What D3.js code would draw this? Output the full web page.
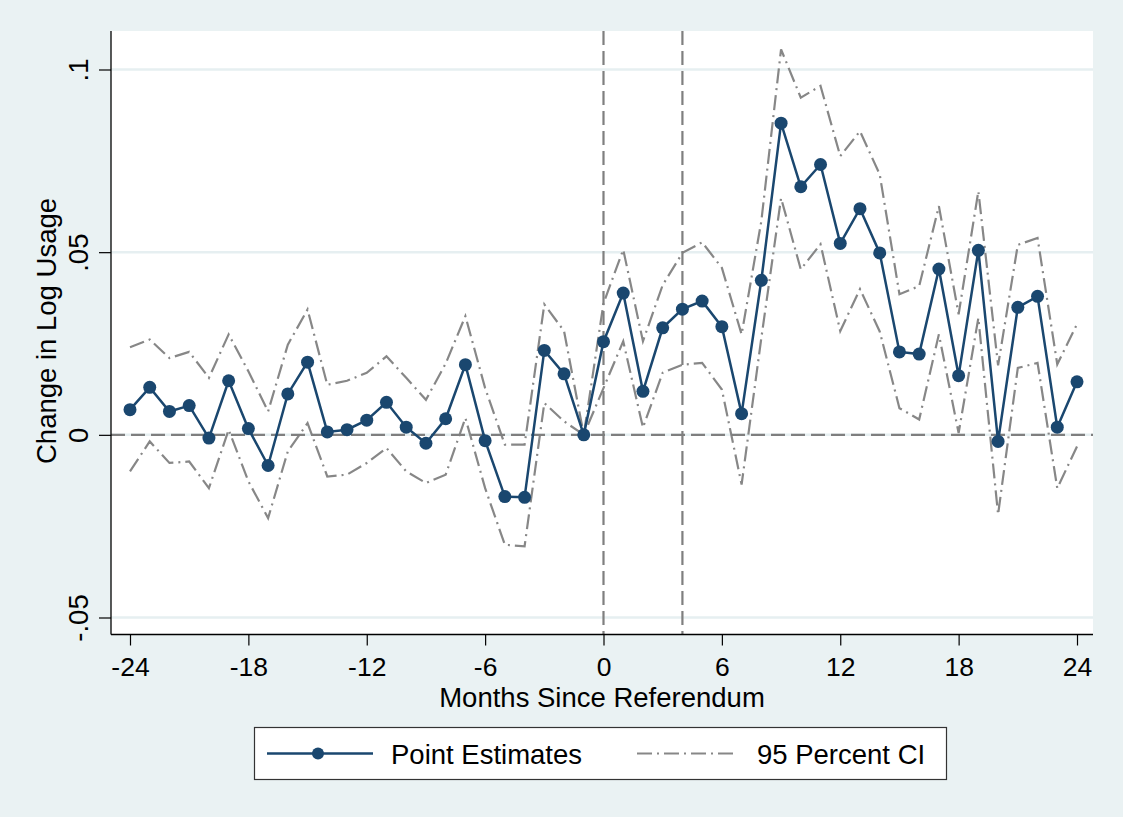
<!DOCTYPE html>
<html>
<head>
<meta charset="utf-8">
<script src="https://cdn.jsdelivr.net/npm/d3@7"></script>
<style>
  html, body { margin: 0; padding: 0; background: #eaf2f3; }
  svg { display: block; }
  text { font-family: "Liberation Sans", Arial, sans-serif; fill: #000; }
</style>
</head>
<body>
<svg id="chart" width="1123" height="817"></svg>
<script>
const months = [-24,-23,-22,-21,-20,-19,-18,-17,-16,-15,-14,-13,-12,-11,-10,-9,-8,-7,-6,-5,-4,-3,-2,-1,
                0,1,2,3,4,5,6,7,8,9,10,11,12,13,14,15,16,17,18,19,20,21,22,23,24];
const estimates = [0.0069,0.0130,0.0064,0.0080,-0.0009,0.0148,0.0017,-0.0084,0.0112,0.0199,0.0008,0.0014,
                   0.0040,0.0089,0.0021,-0.0023,0.0044,0.0192,-0.0016,-0.0169,-0.0171,0.0231,0.0167,0.0000,
                   0.0255,0.0388,0.0119,0.0293,0.0344,0.0366,0.0296,0.0058,0.0423,0.0853,0.0679,0.0740,
                   0.0524,0.0619,0.0498,0.0227,0.0221,0.0454,0.0162,0.0505,-0.0018,0.0349,0.0379,0.0021,0.0145];
const ciUpper = [0.0240,0.0261,0.0210,0.0227,0.0156,0.0275,0.0174,0.0064,0.0247,0.0343,0.0137,0.0148,
                 0.0170,0.0215,0.0156,0.0096,0.0195,0.0325,0.0128,-0.0027,-0.0027,0.0357,0.0284,0.0000,
                 0.0360,0.0507,0.0256,0.0410,0.0498,0.0527,0.0457,0.0275,0.0585,0.1055,0.0923,0.0955,
                 0.0763,0.0831,0.0713,0.0385,0.0407,0.0626,0.0330,0.0667,0.0190,0.0520,0.0539,0.0193,0.0303];
const ciLower = [-0.0100,-0.0018,-0.0077,-0.0073,-0.0146,0.0014,-0.0127,-0.0228,-0.0045,0.0032,-0.0114,-0.0109,
                 -0.0077,-0.0036,-0.0100,-0.0132,-0.0109,0.0046,-0.0146,-0.0301,-0.0305,0.0087,0.0037,0.0000,
                 0.0128,0.0256,0.0020,0.0170,0.0192,0.0197,0.0124,-0.0136,0.0265,0.0648,0.0453,0.0522,
                 0.0284,0.0399,0.0283,0.0073,0.0042,0.0275,0.0005,0.0320,-0.0218,0.0183,0.0197,-0.0146,-0.0032];
const xTicks = [-24,-18,-12,-6,0,6,12,18,24];
const xTickLabels = ["-24","-18","-12","-6","0","6","12","18","24"];
const yTicks = [-0.05,0,0.05,0.1];
const yTickLabels = ["-.05","0",".05",".1"];
const vLines = [0,4];
const yTitle = "Change in Log Usage";
const xTitle = "Months Since Referendum";
const legendLabels = ["Point Estimates","95 Percent CI"];

const svg = d3.select("#chart");
const plot = {left: 111, right: 1093, top: 31, bottom: 634.5};
const x = d3.scaleLinear().domain([-24, 24]).range([130, 1077]);
const y = d3.scaleLinear().domain([-0.05, 0.1]).range([617.5, 69.5]);

const navy = "#1a476f";
const gray = "#878787";
const refGray = "#7f7f7f";
const fontSize = 27.5;
const tickFont = 26.5;

svg.append("rect").attr("width", 1123).attr("height", 817).attr("fill", "#eaf2f3");
svg.append("rect").attr("x", plot.left).attr("y", plot.top)
   .attr("width", plot.right - plot.left).attr("height", plot.bottom - plot.top).attr("fill", "#fff");

// gridlines
svg.append("g").selectAll("line").data(yTicks).join("line")
  .attr("x1", plot.left).attr("x2", plot.right)
  .attr("y1", d => y(d)).attr("y2", d => y(d))
  .attr("stroke", "#e6eff1").attr("stroke-width", 2.5);

// CI lines
const ciDash = "15,5,2,5";
const lineGen = vals => d3.line().x((d, i) => x(months[i])).y(d => y(d))(vals);
[ciUpper, ciLower].forEach(vals => {
  svg.append("path").attr("d", lineGen(vals)).attr("fill", "none")
    .attr("stroke", gray).attr("stroke-width", 2.2).attr("stroke-dasharray", ciDash);
});

// reference lines
svg.append("line").attr("x1", plot.left).attr("x2", plot.right)
  .attr("y1", y(0)).attr("y2", y(0))
  .attr("stroke", refGray).attr("stroke-width", 2.2).attr("stroke-dasharray", "14,6");
svg.append("g").selectAll("line").data(vLines).join("line")
  .attr("x1", d => x(d)).attr("x2", d => x(d))
  .attr("y1", plot.top).attr("y2", plot.bottom)
  .attr("stroke", refGray).attr("stroke-width", 2.2).attr("stroke-dasharray", "14,6");

// estimates
svg.append("path").attr("d", lineGen(estimates)).attr("fill", "none")
  .attr("stroke", navy).attr("stroke-width", 2.5);
svg.append("g").selectAll("circle").data(estimates).join("circle")
  .attr("cx", (d, i) => x(months[i])).attr("cy", d => y(d)).attr("r", 6.5).attr("fill", navy);

// axes
const xAxis = d3.axisBottom(x).tickValues(xTicks).tickSize(11).tickPadding(12)
  .tickFormat((d, i) => xTickLabels[i]);
const gx = svg.append("g").attr("transform", `translate(0,${plot.bottom})`).call(xAxis);
gx.select(".domain").remove();
gx.selectAll(".tick line").attr("stroke", "#000").attr("stroke-width", 1.2);
gx.selectAll(".tick text").attr("font-size", tickFont).attr("font-family", "Liberation Sans, Arial, sans-serif")
  .attr("dy", null).attr("y", 41.5);
svg.append("line").attr("x1", plot.left).attr("x2", plot.right)
  .attr("y1", plot.bottom).attr("y2", plot.bottom).attr("stroke", "#000").attr("stroke-width", 1.3);

const yAxis = d3.axisLeft(y).tickValues(yTicks).tickSize(12).tickFormat((d, i) => yTickLabels[i]);
const gy = svg.append("g").attr("transform", `translate(${plot.left},0)`).call(yAxis);
gy.select(".domain").remove();
gy.selectAll(".tick line").attr("stroke", "#000").attr("stroke-width", 1.2);
gy.selectAll(".tick text").attr("font-size", fontSize).attr("font-family", "Liberation Sans, Arial, sans-serif")
  .attr("x", null).attr("dy", null).attr("text-anchor", "middle")
  .attr("transform", "translate(-23,0) rotate(-90)");
svg.append("line").attr("x1", plot.left).attr("x2", plot.left)
  .attr("y1", plot.top).attr("y2", plot.bottom).attr("stroke", "#000").attr("stroke-width", 1.3);

// titles
svg.append("text").attr("x", 602).attr("y", 707).attr("text-anchor", "middle")
  .attr("font-size", fontSize).text(xTitle);
svg.append("text").attr("transform", "translate(56,331) rotate(-90)").attr("text-anchor", "middle")
  .attr("font-size", fontSize).text(yTitle);

// legend
const lg = svg.append("g");
lg.append("rect").attr("x", 254.5).attr("y", 727.5).attr("width", 692).attr("height", 52)
  .attr("fill", "#fff").attr("stroke", "#333").attr("stroke-width", 1.2);
lg.append("line").attr("x1", 267).attr("x2", 373).attr("y1", 753.5).attr("y2", 753.5)
  .attr("stroke", navy).attr("stroke-width", 2.5);
lg.append("circle").attr("cx", 318).attr("cy", 753.5).attr("r", 6).attr("fill", navy);
lg.append("text").attr("x", 391).attr("y", 763.5).attr("font-size", fontSize).text(legendLabels[0]);
lg.append("line").attr("x1", 637).attr("x2", 736).attr("y1", 753.5).attr("y2", 753.5)
  .attr("stroke", gray).attr("stroke-width", 2.2).attr("stroke-dasharray", ciDash);
lg.append("text").attr("x", 757).attr("y", 763.5).attr("font-size", fontSize).text(legendLabels[1]);
</script>
</body>
</html>
